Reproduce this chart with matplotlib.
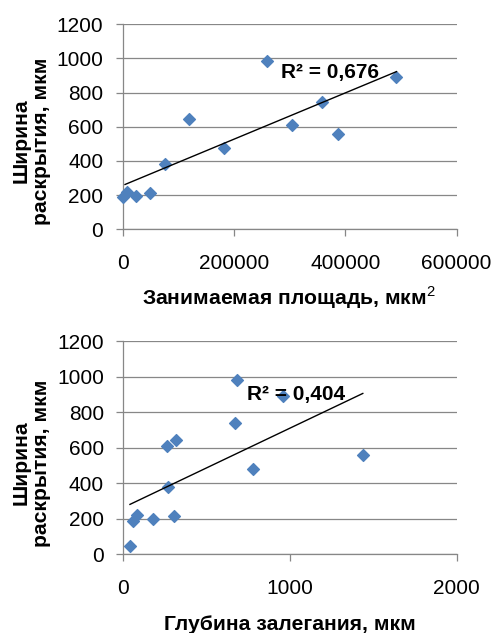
import matplotlib
matplotlib.use('Agg')
import numpy as np
import matplotlib.pyplot as plt

plt.rcParams['font.family'] = ['Liberation Sans', 'DejaVu Sans']
plt.rcParams['mathtext.fontset'] = 'custom'
plt.rcParams['mathtext.rm'] = 'Liberation Sans'

# --- data ---
area_x = [1200, 7200, 24000, 49700, 75400, 119000, 182600, 258700,
          304000, 358000, 387000, 492000]
area_y = [186, 219, 195, 209, 381, 643, 477, 983, 608, 745, 557, 893]

depth_x = [42, 60, 84, 176, 264, 314, 266, 304, 670, 680, 780, 960, 1436]
depth_y = [45, 186, 219, 199, 609, 641, 380, 212, 741, 982, 478, 890, 558]

# trend lines (slope, intercept) as shown on the chart
area_fit = [1.3553e-3, 256.0]
depth_fit = [0.4484, 262.0]

y_ticks = [0, 200, 400, 600, 800, 1000, 1200]

blue = '#4F81BD'
grey = '#878787'

fig = plt.figure(figsize=(4.92, 6.33), dpi=100)


def style(ax, xticks):
    ax.set_ylim(0, 1200)
    ax.set_yticks(y_ticks)
    ax.set_xticks(xticks)
    ax.set_xlim(xticks[0], xticks[-1])
    ax.grid(axis='y', color=grey, lw=0.9)
    ax.set_axisbelow(True)
    for s in ['top', 'right']:
        ax.spines[s].set_visible(False)
    for s in ['left', 'bottom']:
        ax.spines[s].set_color(grey)
        ax.spines[s].set_linewidth(0.9)
    ax.tick_params(axis='y', length=5, color=grey, width=0.9, pad=9, labelsize=15)
    ax.tick_params(axis='x', length=5, color=grey, width=0.9, pad=13, labelsize=15)


# top: occupied area
ax1 = fig.add_axes([0.2494, 0.638, 0.6786, 0.3236])
style(ax1, [0, 200000, 400000, 600000])
ax1.scatter(area_x, area_y, marker='D', s=36, color=blue, zorder=3, clip_on=False)
xs = np.array([4200, 492000])
ax1.plot(xs, area_fit[0] * xs + area_fit[1], color='black', lw=1.0, zorder=4)
ax1.text(0.474, 0.767, 'R² = 0,676', transform=ax1.transAxes,
         fontsize=15, fontweight='bold', va='center', ha='left', zorder=5)

# bottom: depth
ax2 = fig.add_axes([0.2506, 0.1248, 0.678, 0.336])
style(ax2, [0, 1000, 2000])
ax2.scatter(depth_x, depth_y, marker='D', s=36, color=blue, zorder=3, clip_on=False)
xs = np.array([40, 1436])
ax2.plot(xs, depth_fit[0] * xs + depth_fit[1], color='black', lw=1.0, zorder=4)
ax2.text(0.371, 0.75, 'R² = 0,404', transform=ax2.transAxes,
         fontsize=15, fontweight='bold', va='center', ha='left', zorder=5)

# axis titles
ylab = 'Ширина\nраскрытия, мкм'
fig.text(0.064, 1 - 141 / 633, ylab, rotation=90, ha='center', va='center',
         multialignment='center', fontsize=15.2, fontweight='bold', linespacing=1.05)
fig.text(0.064, 1 - 463 / 633, ylab, rotation=90, ha='center', va='center',
         multialignment='center', fontsize=15.2, fontweight='bold', linespacing=1.05)

fig.text(289 / 492, 1 - 298 / 633, 'Занимаемая площадь, мкм$^{2}$', ha='center',
         va='center', fontsize=15.2, fontweight='bold')
fig.text(290 / 492, 1 - 624 / 633, 'Глубина залегания, мкм', ha='center',
         va='center', fontsize=15.2, fontweight='bold')

fig.savefig('out.png', dpi=100)
